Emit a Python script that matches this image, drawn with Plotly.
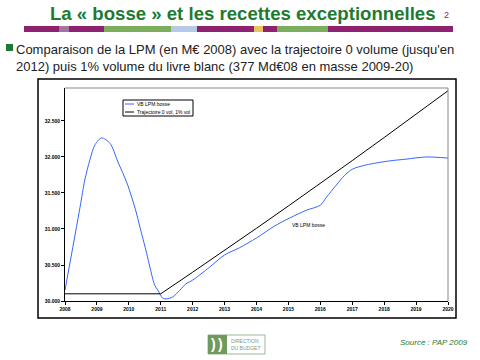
import plotly.graph_objects as go

# ---- data (M€ 2008) ----
bosse_years = [2008.0, 2008.47, 2008.62, 2008.78, 2008.94, 2009.15, 2009.41, 2009.66, 2009.94,
               2010.22, 2010.34, 2010.56, 2010.66, 2010.81, 2010.91, 2011.06, 2011.19, 2011.37,
               2011.6, 2011.78, 2012.0, 2012.53, 2013.0, 2013.47, 2014.0, 2014.56, 2015.03,
               2015.56, 2016.0, 2016.19, 2016.5, 2016.75, 2017.0, 2017.44, 2018.16, 2018.69,
               2019.31, 2020.0]
bosse_values = [30150, 31300, 31680, 31960, 32170, 32265, 32190, 31930, 31640,
                31250, 31040, 30660, 30470, 30220, 30150, 30040, 30030, 30055,
                30150, 30235, 30290, 30470, 30640, 30740, 30875, 31040, 31150,
                31260, 31330, 31440, 31610, 31740, 31830, 31890, 31945, 31970,
                32000, 31985]

traj_years = [2008, 2009, 2010, 2011, 2012, 2013, 2014, 2015, 2016, 2017, 2018, 2019, 2020]
traj_values = [30100, 30100, 30100, 30100, 30400, 30700, 31010, 31320, 31630, 31950, 32270, 32590, 32920]

y_tickvals = [30000, 30500, 31000, 31500, 32000, 32500]
y_ticktext = ["30.000", "30.500", "31.000", "31.500", "32.000", "32.500"]
x_tickvals = traj_years

series_names = ["VB LPM bosse", "Trajectoire 0 vol, 1% vol"]
series_colors = ["#3366ff", "black"]

# ---- layout geometry (screen pixels) ----
W, H = 480, 360
L, R, T, B = 65, 448, 88, 301  # plot area


def px(x):
    return (x - L) / (R - L)


def py(y):
    return (B - y) / (B - T)


fig = go.Figure()
fig.add_trace(go.Scatter(x=bosse_years, y=bosse_values, mode="lines", name=series_names[0],
                         line=dict(color=series_colors[0], width=1, shape="spline", smoothing=0.8)))
fig.add_trace(go.Scatter(x=traj_years, y=traj_values, mode="lines", name=series_names[1],
                         line=dict(color=series_colors[1], width=1)))

shapes = []
# grey top/right border of plot area
shapes.append(dict(type="line", xref="paper", yref="paper", x0=0, x1=1, y0=1, y1=1,
                   line=dict(color="#888888", width=1)))
shapes.append(dict(type="line", xref="paper", yref="paper", x0=1, x1=1, y0=0, y1=1,
                   line=dict(color="#888888", width=1)))
# outer black frame of chart
shapes.append(dict(type="rect", xref="paper", yref="paper", x0=px(38), x1=px(456), y0=py(318), y1=py(79),
                   line=dict(color="black", width=1.5), fillcolor="rgba(0,0,0,0)", layer="below"))
# top colour bar
bar = [(24, 59, "#8e2170"), (59, 69, "#a673a0"), (69, 104, "#8e2170"), (104, 171, "#7aae5c"),
       (171, 197, "#b7c9e8"), (197, 254, "#8e2170"), (254, 263, "#e8c35e"), (263, 277, "#8e2170"),
       (277, 328, "#7aae5c"), (328, 453, "#8e2170")]
for x0, x1, c in bar:
    shapes.append(dict(type="rect", xref="paper", yref="paper", x0=px(x0), x1=px(x1), y0=py(32), y1=py(26),
                       line=dict(width=0), fillcolor=c))
# bullet square
shapes.append(dict(type="rect", xref="paper", yref="paper", x0=px(6), x1=px(13), y0=py(51), y1=py(44),
                   line=dict(width=0), fillcolor="#1e7a30"))
# logo
shapes.append(dict(type="rect", xref="paper", yref="paper", x0=px(208), x1=px(265), y0=py(354), y1=py(335),
                   line=dict(color="#9ab89a", width=1), fillcolor="white"))
shapes.append(dict(type="rect", xref="paper", yref="paper", x0=px(208), x1=px(227), y0=py(354), y1=py(335),
                   line=dict(width=0), fillcolor="#6f9a5e"))
# legend box
shapes.append(dict(type="rect", xref="paper", yref="paper", x0=px(123), x1=px(193), y0=py(116), y1=py(100),
                   line=dict(color="black", width=1), fillcolor="white"))
for i, c in enumerate(series_colors):
    yy = 104 + 8 * i
    shapes.append(dict(type="line", xref="paper", yref="paper", x0=px(125), x1=px(134), y0=py(yy), y1=py(yy),
                       line=dict(color=c, width=1)))

annotations = [
    dict(text="<b>La « bosse » et les recettes exceptionnelles</b>", x=px(243), y=py(13), xref="paper", yref="paper",
         showarrow=False, font=dict(family="Liberation Sans", size=18.6, color="#1e7a30"), xanchor="center", yanchor="middle"),
    dict(text="2", x=px(446), y=py(15), xref="paper", yref="paper", showarrow=False,
         font=dict(family="Liberation Sans", size=9, color="#8e2170"), xanchor="center", yanchor="middle"),
    dict(text="Comparaison de la LPM (en M€ 2008) avec la trajectoire 0 volume (jusqu'en<br>2012) puis 1% volume du livre blanc (377 Md€08 en masse 2009-20)",
         x=px(14), y=py(40), xref="paper", yref="paper", showarrow=False, align="left",
         font=dict(family="Liberation Sans", size=13, color="#222222"), xanchor="left", yanchor="top"),
    dict(text="VB LPM bosse", x=2015.05, y=31050, xref="x", yref="y", showarrow=False,
         font=dict(family="Liberation Sans", size=5, color="black"), xanchor="left", yanchor="middle"),
    dict(text="<i>Source : PAP 2009</i>", x=px(470), y=py(342), xref="paper", yref="paper", showarrow=False,
         font=dict(family="Liberation Sans", size=8, color="#1e7a30"), xanchor="right", yanchor="middle"),
    dict(text="DIRECTION<br>DU BUDGET", x=px(229), y=py(344.5), xref="paper", yref="paper", showarrow=False,
         align="left", font=dict(family="Liberation Sans", size=5, color="#7a9a7a"), xanchor="left", yanchor="middle"),
    dict(text="<b>)</b>", x=px(213), y=py(344), xref="paper", yref="paper", showarrow=False,
         font=dict(family="Liberation Sans", size=14, color="white"), xanchor="center", yanchor="middle"),
    dict(text="<b>)</b>", x=px(220), y=py(344), xref="paper", yref="paper", showarrow=False,
         font=dict(family="Liberation Sans", size=14, color="white"), xanchor="center", yanchor="middle"),
]
for i, name in enumerate(series_names):
    annotations.append(dict(text=name, x=px(135), y=py(104 + 8 * i), xref="paper", yref="paper", showarrow=False,
                            font=dict(family="Liberation Sans", size=5, color="black"),
                            xanchor="left", yanchor="middle"))

fig.update_layout(
    width=W, height=H,
    margin=dict(l=L, r=W - R, t=T, b=H - B),
    paper_bgcolor="white", plot_bgcolor="white",
    shapes=shapes, annotations=annotations,
    showlegend=False,
    xaxis=dict(range=[2008, 2020], tickvals=x_tickvals, ticks="outside", ticklen=3, tickcolor="black",
               showline=True, linecolor="black", linewidth=1, showgrid=False, zeroline=False,
               tickfont=dict(family="Liberation Sans", size=5, color="black", weight="bold")),
    yaxis=dict(range=[30000, 32958], tickvals=y_tickvals, ticktext=y_ticktext, ticks="outside", ticklen=3,
               tickcolor="black", showline=True, linecolor="black", linewidth=1, showgrid=False, zeroline=False,
               tickfont=dict(family="Liberation Sans", size=5, color="black", weight="bold")),
)

fig.write_html("out.html",
               config={"displayModeBar": False},
               post_script="document.body.style.margin='0';document.body.style.overflow='hidden';")
